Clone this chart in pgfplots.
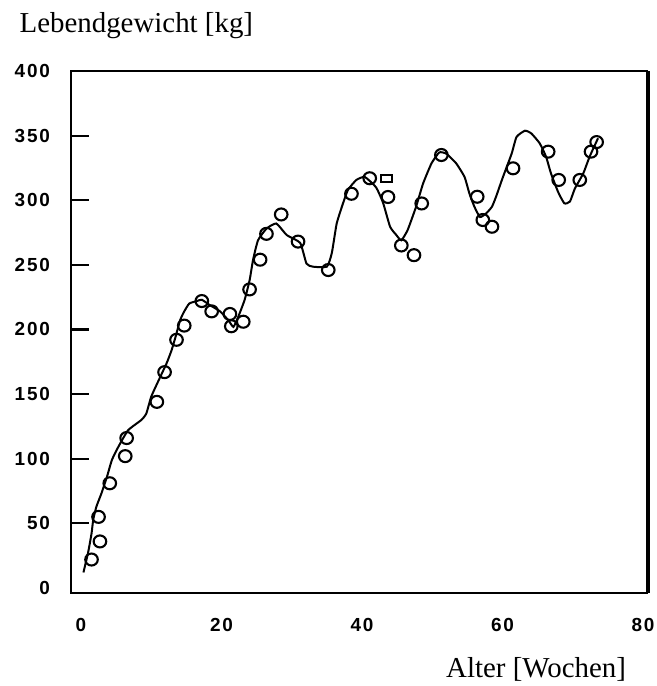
\documentclass[border=0pt]{standalone}
\usepackage{fontspec}
\setmainfont{Liberation Serif}
\newfontfamily\tickfont[LetterSpace=10]{Liberation Sans}
\usepackage{pgfplots}
\pgfplotsset{compat=1.18}
\begin{document}
\begin{tikzpicture}
\path[use as bounding box] (-35.5bp,-46.5bp) rectangle (293bp,296.5bp);
\begin{axis}[
  at={(0,0)}, anchor=south west,
  scale only axis, width=288bp, height=261bp,
  xmin=-1.42, xmax=80.57, ymin=-3.9, ymax=400,
  axis line style={line width=1.1bp},
  xtick={0,20,40,60,80},
  major x tick style={draw=none},
  ytick={50,100,...,350},
  extra y ticks={0,400},
  extra y tick style={major tick length=0pt},
  ytick pos=left, tick align=inside,
  major tick length=9bp,
  y tick style={line width=1.1bp, black},
  /pgf/number format/assume math mode=true,
  ticklabel style={font=\tickfont\bfseries\fontsize{9.5}{10}\selectfont},
  xticklabel style={yshift=-9.3bp},
  yticklabel style={xshift=-7bp},
  every axis y label/.style={at={(rel axis cs:0,1)}, anchor=base west, xshift=-29.2bp, yshift=19bp, font=\fontsize{14.5}{17}\selectfont},
  every axis x label/.style={at={(rel axis cs:1,0)}, anchor=base east, xshift=-7bp, yshift=-42bp, font=\fontsize{14.5}{17}\selectfont},
  xlabel={Alter [Wochen]},
  ylabel={Lebendgewicht [kg]},
  clip=false,
]
\addplot[black, line width=1bp, smooth, tension=0.3] coordinates {
(0.35,12) (1.0,27) (1.5,42) (1.75,53) (2.2,63) (2.9,73) (3.7,86) (4.4,99)
(5.3,109) (6.7,122) (8.6,130) (9.3,135) (10,148) (11,160) (12.2,174) (12.9,184)
(13.5,195) (14.1,207) (14.6,213) (15.4,220) (16.5,222) (17.2,223) (18.3,219) (19.8,214)
(21,207) (21.7,202) (22.4,210) (23.3,223) (24,238) (24.5,254) (25.2,269)
(26.4,278) (27.8,282) (29.3,273) (31.2,267) (32.1,251) (33,248.6) (35,248.6)
(35.7,259) (36.4,282) (37.3,297.6) (38,308) (39.2,315.7) (40.4,318) (42,310)
(43,298) (44,279.5) (44.9,273) (45.6,269) (46.5,277) (47.7,295) (48.7,313)
(49.9,328.6) (51,337) (52,336) (53.4,328.6) (54.6,318) (55.3,305) (56,295)
(56.8,287) (57.7,290) (58.5,295) (59.1,303) (60.0,317) (61.3,336) (62,349)
(63.2,353.8) (64.1,351.7) (65.3,344) (66.2,333.7) (66.9,320.8) (67.9,306.6)
(68.8,297.6) (69.6,299) (70.3,309) (71.5,320.8) (72.4,333.7) (73.6,348)
};
\addplot[only marks, mark=o, mark size=3bp, mark options={line width=1.05bp, black, xscale=1.05}] coordinates {
(1.5,22) (2.7,36) (2.5,55) (4.1,81) (6.3,102) (6.5,116) (10.8,144) (11.9,167)
(13.6,192) (14.7,203) (17.2,222) (18.6,214) (21.2,212) (21.4,202.5) (23.1,206)
(24.0,231) (25.5,254) (26.4,274) (28.5,289) (30.9,268) (35.2,246) (38.5,305)
(41.1,317) (43.7,302.5) (45.6,265) (47.4,257.5) (48.5,297.5) (51.3,335)
(56.4,302.7) (57.2,284.7) (58.5,279.5) (61.5,324.7) (66.5,337.6) (68.0,315.7)
(71.0,315.7) (72.6,337.6) (73.4,345)
};
\addplot[only marks, mark=square, mark size=2.8bp, mark options={line width=1.2bp, black, yscale=0.62}] coordinates {
(43.5,317)
};
\draw[line width=2.2bp] ([xshift=0.55bp]rel axis cs:1,0) -- ([xshift=0.55bp]rel axis cs:1,1);
\end{axis}
\end{tikzpicture}
\end{document}
